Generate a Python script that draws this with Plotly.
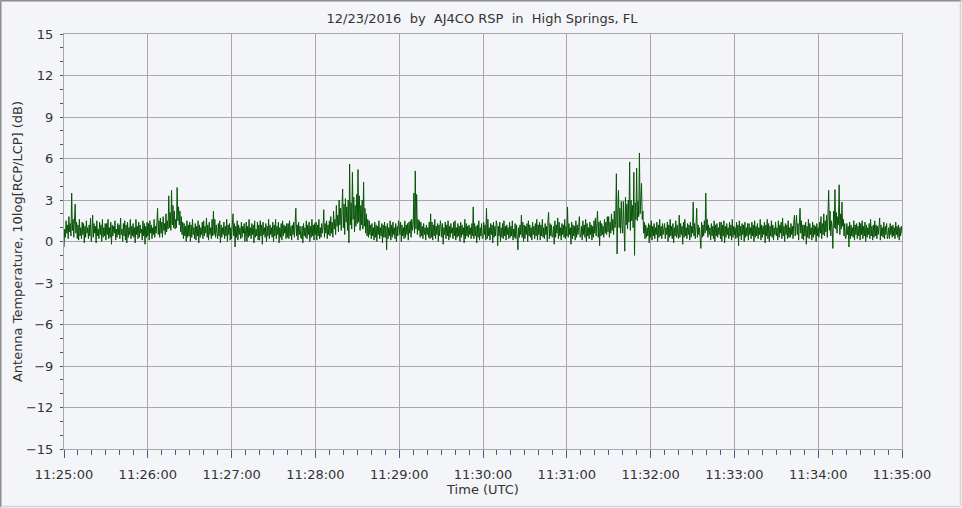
import plotly.graph_objects as go
import pandas as pd

title_text = "12/23/2016\u00a0\u00a0by\u00a0\u00a0AJ4CO RSP\u00a0\u00a0in\u00a0\u00a0High Springs, FL"
x_title = "Time (UTC)"
y_title = "Antenna Temperature, 10log[RCP/LCP] (dB)"
start_time = "2016-12-23 11:25:00"
y_ticks = [-15, -12, -9, -6, -3, 0, 3, 6, 9, 12, 15]

# two values per second (each row = 10 s)
values_text = """
-0.4 0.9 0.3 1.5 0.6 1.2 0.2 1.8 0.7 1.3 0.4 3.5 0.8 1.6 0.3 1.2 2.7 0.6 1.4 0.2
1.2 0.1 1.6 0.4 1.0 0.2 1.4 0.5 1.3 -0.1 1.1 0.3 1.5 0.6 1.0 0.2 1.2 0.4 1.7 0.0
0.5 1.9 0.3 1.3 0.6 1.1 -0.1 1.5 0.4 0.9 0.2 1.4 0.5 1.2 0.0 1.6 0.3 1.0 0.4 1.3
0.1 1.3 0.5 1.6 0.2 1.0 0.3 1.4 -0.2 1.2 0.4 1.1 0.6 1.5 0.1 0.9 0.3 1.3 0.5 1.2
0.2 1.7 0.5 0.9 0.0 1.3 0.4 1.5 0.1 1.2 -0.1 1.4 0.3 1.0 0.5 1.6 0.2 1.1 0.4 1.3
0.3 1.0 -0.1 1.6 0.5 1.1 0.2 1.4 0.3 1.2 0.6 0.9 0.1 1.5 0.4 1.3 -0.2 1.1 0.3 1.4
0.4 1.3 0.1 1.5 0.6 1.2 0.2 1.0 0.5 1.6 0.3 1.1 0.6 1.4 2.4 0.5 1.5 0.3 1.7 0.6
1.4 0.3 1.8 0.8 1.3 0.5 2.0 0.7 1.5 0.9 3.3 1.0 2.1 0.8 3.7 1.2 2.6 1.0 2.2 0.9
1.6 1.0 3.9 1.5 2.5 1.2 2.2 0.7 1.8 0.5 1.4 0.2 1.3 0.4 1.1 0.0 1.5 0.3 1.2 0.4
1.4 0.0 1.2 0.3 1.6 0.5 1.0 0.2 1.3 0.1 1.1 0.4 1.5 -0.1 1.2 0.3 1.0 0.5 1.4 0.2
1.5 0.4 1.1 0.6 1.7 0.3 1.2 0.1 1.4 0.5 1.0 0.2 1.6 0.4 2.2 0.5 1.6 0.3 1.2 0.6
0.2 1.3 0.4 1.5 -0.1 1.2 0.3 1.0 0.5 1.4 0.2 1.1 0.4 1.6 0.0 1.2 0.5 1.3 0.1 1.0
0.2 1.2 2.0 0.4 1.3 -0.4 1.1 0.3 1.5 0.1 1.2 0.5 1.0 0.2 1.4 0.3 1.1 0.6 1.3 0.0
0.5 1.4 0.0 1.1 0.3 1.6 0.4 1.0 0.2 1.3 0.5 1.2 -0.1 1.5 0.3 0.9 0.4 1.4 0.1 1.2
0.1 1.5 0.4 1.2 -0.2 1.4 0.5 1.0 0.3 1.3 0.0 1.1 0.4 1.6 0.2 1.2 0.5 1.0 0.3 1.4
0.0 1.2 0.4 1.6 0.2 1.1 0.5 1.4 -0.1 1.0 0.3 1.3 0.1 1.5 0.4 1.2 0.6 1.1 0.2 1.3
0.3 1.3 0.2 1.5 0.4 1.1 0.1 1.2 0.5 1.4 0.3 1.0 2.4 0.4 1.2 0.1 1.4 0.5 1.1 0.3
0.2 1.1 -0.1 1.3 0.4 1.0 0.3 1.5 0.2 1.2 0.5 1.4 0.0 1.1 0.3 1.6 0.4 1.2 0.1 1.3
0.5 1.4 0.1 1.2 0.4 1.6 0.2 1.0 0.3 1.3 0.6 1.1 2.3 0.3 1.3 0.6 1.5 0.2 1.2 0.5
1.5 0.4 1.8 0.6 1.4 0.3 2.2 0.9 1.6 0.5 2.6 1.1 1.9 0.7 3.0 1.2 2.4 0.8 2.0 3.8
1.0 2.7 0.5 3.1 1.4 2.5 0.8 3.0 -0.1 5.6 1.2 2.8 0.9 5.0 1.6 3.2 0.7 2.6 1.1 3.4
1.3 5.2 1.4 3.3 0.8 2.6 1.2 3.0 0.9 4.3 1.1 2.4 0.6 2.0 0.4 1.6 0.3 1.5 0.5 1.2
0.2 1.3 0.4 1.0 0.1 1.4 0.3 1.2 0.0 1.1 0.5 1.5 0.2 1.0 0.4 1.3 -0.1 1.2 0.3 1.4
0.3 1.1 -0.6 1.3 0.2 1.0 0.4 1.5 0.1 1.2 0.3 1.4 0.5 1.0 0.2 1.3 0.0 1.1 0.4 1.5
1.1 0.5 1.4 0.0 1.2 0.4 1.0 0.2 1.5 0.3 1.2 0.5 1.3 0.1 1.4 0.6 1.5 0.3 1.6 0.8
1.2 3.5 0.6 5.1 0.9 3.4 0.5 1.6 0.8 1.5 0.3 1.4 0.4 1.1 0.2 1.3 0.5 1.0 0.1 1.2
0.5 1.0 0.3 1.4 0.2 2.0 0.3 1.4 0.1 1.2 0.4 1.6 0.2 1.1 0.5 1.3 0.0 1.2 0.4 1.5
1.1 0.3 1.3 -0.2 1.0 0.5 1.4 0.2 1.2 0.4 1.5 0.1 1.1 0.3 1.3 0.6 1.0 0.2 1.4 0.4
1.5 0.1 1.0 0.3 1.3 0.4 1.1 0.0 1.4 0.3 1.2 0.5 1.0 -0.1 1.6 0.2 1.3 0.4 1.1 0.3
1.2 0.5 1.0 0.2 1.3 0.4 2.5 0.2 1.3 0.4 1.1 -0.1 1.2 0.3 1.5 0.1 1.0 0.4 1.3 0.2
0.3 1.4 0.5 1.2 0.1 2.4 0.2 1.6 0.4 1.0 0.1 1.3 0.5 1.2 -0.1 1.4 0.3 1.1 0.4 1.5
1.2 -0.3 1.1 0.4 1.4 0.0 1.0 0.3 1.3 0.2 1.5 0.4 1.1 0.1 1.2 0.5 1.0 0.2 1.4 0.3
1.1 0.4 1.5 0.1 0.9 0.3 1.3 0.2 1.2 0.4 -0.6 1.0 0.3 1.2 0.5 1.9 0.3 1.4 0.0 1.2
0.2 1.1 0.5 1.3 0.0 1.5 0.4 1.2 0.3 1.0 0.1 1.4 0.5 1.1 0.2 1.3 0.4 1.6 0.1 1.2
0.5 1.4 0.1 1.2 0.4 1.6 0.3 1.0 0.2 1.3 0.5 1.1 0.0 1.5 2.1 0.2 1.3 0.4 1.2 0.3
0.4 1.1 -0.2 1.5 0.3 1.2 0.6 1.7 0.2 1.4 0.4 1.0 0.1 1.3 0.5 1.2 0.3 1.6 0.2 1.1
0.4 2.5 0.3 1.3 0.5 1.0 -0.2 1.4 0.2 1.2 0.4 1.1 0.1 1.5 0.3 1.2 0.5 1.0 1.8 0.3
0.4 1.1 0.1 1.5 0.5 1.2 0.3 1.6 0.0 1.3 0.4 1.0 0.2 1.4 0.5 1.2 0.1 1.1 0.3 1.5
0.6 1.7 0.4 1.3 2.2 0.3 1.4 -0.3 1.5 0.4 1.3 0.5 1.1 0.3 1.6 0.6 1.4 0.5 1.8 0.7
1.8 0.3 1.4 0.6 2.0 0.8 1.6 0.5 2.2 1.0 1.5 4.9 -0.9 2.3 3.7 1.0 2.4 0.6 2.9 1.2
0.6 2.9 1.3 -0.7 3.2 1.2 2.7 0.9 3.0 1.4 5.75 0.8 3.0 1.5 2.6 1.0 5.0 -1.0 2.8 1.6
5.3 1.5 2.9 1.8 6.4 2.0 3.1 4.2 1.6 2.2 0.6 1.4 0.2 1.2 0.3 1.0 0.4 1.3 -0.1 1.2
0.3 1.5 0.1 1.1 0.4 1.3 0.2 1.0 0.5 1.4 0.0 1.2 0.3 1.6 0.4 1.1 0.2 1.3 0.5 1.0
1.3 0.2 1.0 0.5 1.4 0.0 1.2 0.3 1.6 0.4 1.1 0.2 1.3 -0.1 1.0 0.4 1.5 0.3 1.2 0.5
0.2 1.9 0.3 1.3 0.5 1.1 -0.2 1.4 0.3 1.6 0.4 1.0 0.2 1.3 0.5 1.2 0.1 1.4 0.3 1.1
0.6 2.85 0.4 1.3 0.2 1.1 2.4 0.3 1.2 0.5 1.0 0.2 -0.5 1.4 0.3 1.2 0.4 1.5 0.6 3.5
0.8 1.6 0.3 1.2 0.5 1.0 0.1 1.3 0.4 1.1 0.2 1.5 0.0 1.2 0.4 1.3 0.3 1.0 0.5 1.4
0.2 1.4 0.0 1.2 0.4 1.5 -0.1 1.1 0.3 1.3 0.5 1.0 0.2 1.4 0.4 1.2 0.1 1.6 0.3 1.1
0.5 1.0 0.2 1.4 0.3 1.2 -0.3 1.5 0.4 1.1 0.1 1.3 0.5 1.2 0.0 1.4 0.3 1.0 0.4 1.3
0.1 1.3 0.5 1.0 0.2 1.4 0.4 1.2 0.0 1.5 0.3 1.1 0.4 1.3 0.2 1.0 0.5 1.6 0.1 1.2
0.3 1.1 0.5 1.4 -0.1 1.2 0.4 1.6 0.2 1.3 0.0 1.1 0.4 1.5 0.3 1.2 0.1 1.0 0.5 1.4
0.4 1.0 0.1 1.5 0.3 1.2 0.6 1.4 0.2 1.7 0.4 1.1 0.0 1.3 0.5 1.2 0.2 1.5 0.3 1.0
0.3 1.3 0.5 1.1 0.2 1.4 1.9 0.4 1.2 1.9 0.5 1.3 0.1 1.4 2.4 0.6 1.5 0.2 1.2 0.1
1.2 0.4 1.4 -0.2 1.1 0.3 1.6 0.2 1.3 0.5 1.0 0.1 1.4 0.3 1.2 0.5 1.1 0.0 1.3 0.4
1.0 0.3 1.4 0.6 1.8 0.2 1.3 0.5 2.0 0.4 1.5 0.7 1.9 0.3 1.6 3.7 0.8 2.2 0.4 1.5
0.9 -0.5 2.2 1.0 3.75 0.9 2.1 0.6 1.8 1.2 4.1 0.5 2.0 0.9 2.85 1.1 1.6 0.4 1.3 0.2
0.3 1.3 0.5 1.1 -0.4 1.4 0.2 1.2 0.4 1.0 0.3 1.5 0.1 1.2 0.5 1.3 0.2 1.1 0.4 1.4
0.1 1.3 0.5 1.5 0.2 1.1 0.4 1.4 0.0 1.2 0.3 1.0 0.5 1.3 0.2 1.6 0.4 1.1 0.1 1.2
0.3 1.5 0.4 1.2 0.2 1.1 0.5 1.3 1.7 0.1 1.2 0.4 1.0 0.3 1.4 0.2 1.1 0.5 1.3 0.2
0.4 1.0 0.2 1.3 0.5 1.1 0.3 1.2 0.4 1.0 0.2 1.4 0.5 1.1 0.3 1.2 0.1 1.0 0.4 1.1
0.6
"""
values = [float(v) for v in values_text.split()]
times = pd.date_range(start_time, periods=len(values), freq="500ms")

BG = "#F4F5F8"
GRID = "#A8A8A8"
TXT = "#333333"
FONT = "DejaVu Sans, Verdana, sans-serif"
FS = 13

fig = go.Figure()
fig.add_trace(go.Scatter(
    x=times, y=values, mode="lines",
    line=dict(color="#085408", width=1),
    showlegend=False, hoverinfo="skip",
))

L, R, T, B = 64, 60, 34, 59
W, H = 962, 508
pw, ph = W - L - R, H - T - B

fig.update_layout(
    width=W, height=H,
    margin=dict(l=L, r=R, t=T, b=B, pad=0),
    paper_bgcolor=BG, plot_bgcolor=BG,
    font=dict(family=FONT, size=FS, color=TXT),
    title=dict(text=title_text, x=(482 - L) / pw, xref="paper", xanchor="center",
               y=1 - 18 / H, yanchor="middle",
               font=dict(family=FONT, size=FS, color=TXT)),
    xaxis=dict(
        type="date",
        range=[times[0], times[-1]],
        tickformat="%H:%M:%S",
        dtick=60000,
        tick0=start_time,
        showgrid=True, gridcolor=GRID, gridwidth=1,
        showline=True, linecolor=GRID, linewidth=1, mirror=True,
        ticks="outside", ticklen=8, tickcolor="#4A5A8A", tickwidth=1,
        minor=dict(dtick=10000, ticks="outside", ticklen=5, tickcolor="#4A5A8A", showgrid=False),
        ticklabelstandoff=5,
        tickfont=dict(family=FONT, size=FS, color=TXT),
        title=dict(text=x_title, standoff=0, font=dict(family=FONT, size=FS, color=TXT)),
        zeroline=False,
        automargin=False,
    ),
    yaxis=dict(
        range=[-15, 15],
        tickvals=y_ticks,
        showgrid=True, gridcolor=GRID, gridwidth=1,
        showline=True, linecolor=GRID, linewidth=1, mirror=True,
        ticks="outside", ticklen=3, tickcolor="#555555", tickwidth=1,
        minor=dict(dtick=1, tick0=0, ticks="outside", ticklen=3, tickcolor="#555555", showgrid=False),
        ticklabelstandoff=4,
        tickfont=dict(family=FONT, size=FS, color=TXT),
        title=dict(text=y_title, standoff=0, font=dict(family=FONT, size=FS, color=TXT)),
        zeroline=False,
        automargin=False,
    ),
)

# outer window frame
fig.add_shape(type="line", xref="paper", yref="paper",
              x0=-(L - 0.5) / pw, x1=-(L - 0.5) / pw, y0=-(B - 0.5) / ph, y1=1 + (T - 0.5) / ph,
              line=dict(color="#8C8C8C", width=2), layer="above")
fig.add_shape(type="line", xref="paper", yref="paper",
              x0=-(L - 0.5) / pw, x1=1 + (R - 0.5) / pw, y0=1 + (T - 0.5) / ph, y1=1 + (T - 0.5) / ph,
              line=dict(color="#8C8C8C", width=2), layer="above")
fig.add_shape(type="line", xref="paper", yref="paper",
              x0=1 + (R - 1.5) / pw, x1=1 + (R - 1.5) / pw, y0=-(B - 1.5) / ph, y1=1 + (T - 0.5) / ph,
              line=dict(color="#D4D4D4", width=1.5), layer="above")
fig.add_shape(type="line", xref="paper", yref="paper",
              x0=-(L - 0.5) / pw, x1=1 + (R - 1.5) / pw, y0=-(B - 1.5) / ph, y1=-(B - 1.5) / ph,
              line=dict(color="#D4D4D4", width=1.5), layer="above")

fig.write_html("out.html", config={"displayModeBar": False},
               post_script="document.body.style.margin='0';document.body.style.overflow='hidden';")
